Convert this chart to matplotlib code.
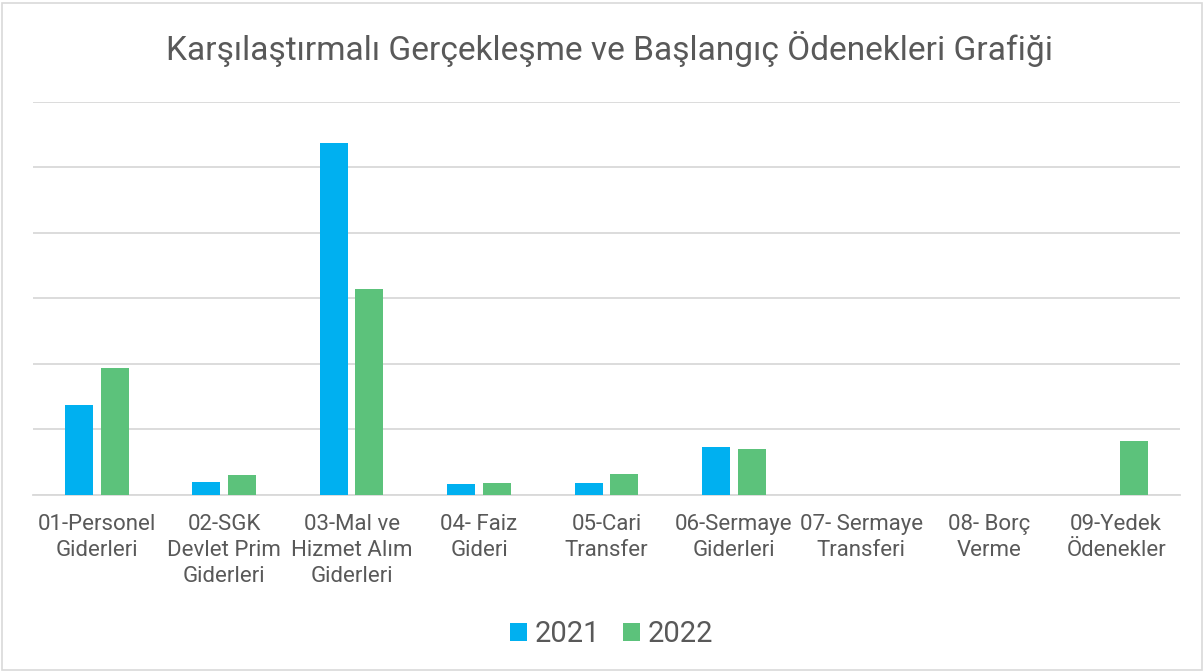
import numpy as np
import matplotlib.pyplot as plt

categories = ['01-Personel\nGiderleri', '02-SGK\nDevlet Prim\nGiderleri', '03-Mal ve\nHizmet Alım\nGiderleri',
              '04- Faiz\nGideri', '05-Cari\nTransfer', '06-Sermaye\nGiderleri', '07- Sermaye\nTransferi',
              '08- Borç\nVerme', '09-Yedek\nÖdenekler']
val_2021 = [1.37, 0.20, 5.37, 0.17, 0.18, 0.73, 0, 0, 0]
val_2022 = [1.94, 0.31, 3.15, 0.18, 0.32, 0.70, 0, 0, 0.82]
title = 'Karşılaştırmalı Gerçekleşme ve Başlangıç Ödenekleri Grafiği'

plt.rcParams['font.family'] = ['Roboto', 'DejaVu Sans']
txt_c = '#595959'
c21, c22 = '#00b0f0', '#5cc27b'

fig = plt.figure(figsize=(12.04, 6.71), dpi=100)
ax = fig.add_axes([0.0274, 0.2623, 0.9526, 0.5857])

x = np.arange(len(categories))
w = 0.22
ax.bar(x - 0.14, val_2021, w, color=c21, label='2021', zorder=3)
ax.bar(x + 0.14, val_2022, w, color=c22, label='2022', zorder=3)

ax.set_xlim(-0.5, len(categories) - 0.5)
ax.set_ylim(0, 6)
ax.set_yticks(np.arange(0, 7, 1))
ax.yaxis.grid(True, color='#d9d9d9', lw=1.3, zorder=0)
ax.tick_params(axis='y', left=False, labelleft=False)
ax.tick_params(axis='x', length=0, pad=14, labelsize=16, labelcolor=txt_c)
ax.set_xticks(x)
ax.set_xticklabels(categories, linespacing=1.3)
for s in ['top', 'right', 'left']:
    ax.spines[s].set_visible(False)
ax.spines['bottom'].set_color('#d9d9d9')
ax.spines['bottom'].set_linewidth(1.3)

fig.text(0.506, 0.927, title, ha='center', va='center', fontsize=24.1, color=txt_c)

leg = fig.legend(loc='center', bbox_to_anchor=(0.508, 0.055), ncol=2, frameon=False,
                 fontsize=21, handlelength=0.58, handleheight=0.58, handletextpad=0.25, columnspacing=0.8)
for t in leg.get_texts():
    t.set_color(txt_c)

# light border round the figure
fig.patches.append(plt.Rectangle((0.002, 0.002), 0.996, 0.994, transform=fig.transFigure,
                                 fill=False, edgecolor='#d9d9d9', lw=1.2))

fig.savefig('out.png', dpi=100)
